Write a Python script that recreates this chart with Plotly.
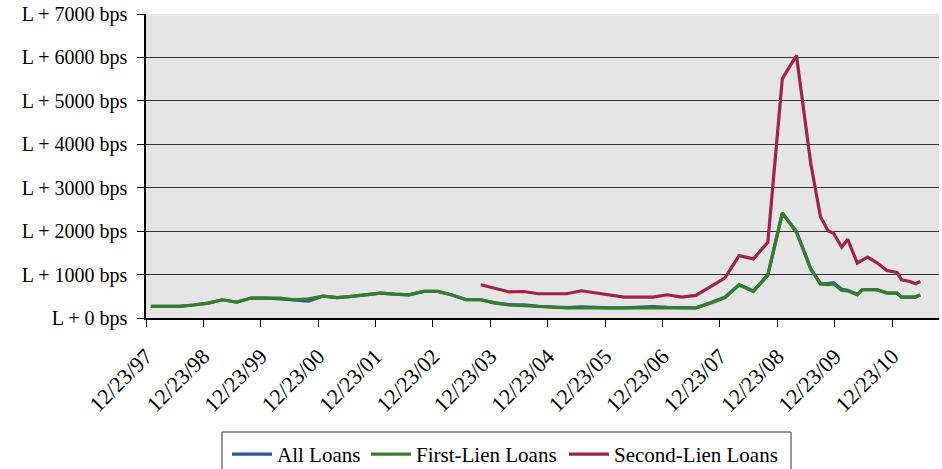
import plotly.graph_objects as go
import pandas as pd

# Shared dates (quarterly to mid-2009, then roughly monthly)
early_dates = list(pd.date_range("1997-12-23", periods=47, freq="3MS") + pd.Timedelta(days=22))
late_dates = pd.to_datetime([
    "2009-09-23", "2009-11-10", "2009-12-15", "2010-02-05", "2010-03-15",
    "2010-05-15", "2010-06-15", "2010-07-20", "2010-09-15", "2010-11-20",
    "2011-01-23", "2011-02-20", "2011-04-15", "2011-05-20", "2011-06-20",
])
dates = [d.strftime("%Y-%m-%d") for d in early_dates] + [d.strftime("%Y-%m-%d") for d in late_dates]

first_lien = [
    266, 266, 266, 300, 344, 420, 367, 459, 459, 459, 420, 440,
    505, 470, 500, 535, 574, 550, 535, 611, 611, 530, 420, 420,
    344, 300, 280, 255, 240, 230, 235, 230, 230, 230, 230, 235,
    230, 230, 230, 340, 465, 760, 611, 985, 2411, 1975, 1120,
    780, 770, 787, 634, 625, 535, 650, 650, 650, 574, 574, 482, 482, 482, 528,
]
all_loans = [
    266, 266, 266, 300, 344, 420, 367, 459, 459, 440, 410, 390,
    505, 470, 500, 535, 574, 550, 535, 611, 611, 530, 420, 420,
    350, 310, 300, 270, 250, 240, 255, 240, 235, 235, 245, 260,
    245, 235, 235, 350, 480, 770, 625, 995, 2420, 1990, 1140,
    790, 790, 815, 660, 640, 545, 650, 650, 655, 580, 574, 482, 482, 482, 528,
]
second_lien = [None] * 23 + [
    765, 680, 600, 610, 558, 558, 558, 627, 580, 535, 482, 482,
    482, 535, 482, 519, 720, 918, 1437, 1361, 1745, 5510, 6046, 3559,
    2330, 2011, 1951, 1630, 1813, 1263, 1330, 1400, 1277, 1093, 1047, 879, 840, 787, 840,
]

series_names = ["All Loans", "First-Lien Loans", "Second-Lien Loans"]
series_colors = ["#2B5797", "#357F2A", "#A3214E"]

y_tick_vals = [0, 1000, 2000, 3000, 4000, 5000, 6000, 7000]
y_tick_text = [f"L + {v} bps" for v in y_tick_vals]
x_tick_vals = [f"{y}-12-23" for y in range(1997, 2011)]
x_tick_text = [f"12/23/{str(y)[2:]}" for y in range(1997, 2011)]

font_family = "Liberation Serif"
W, H = 942, 469
L_M, R_M, T_M, B_M = 146, 3, 14, 151
plot_w = W - L_M - R_M
plot_h = H - T_M - B_M

def px_to_paper_x(px):
    return (px - L_M) / plot_w

def py_to_paper_y(py):
    return (H - B_M - py) / plot_h

legend_ids = ["legend", "legend2", "legend3"]
legend_line_starts = [233, 372, 570]

fig = go.Figure()
for name, vals, col, lid in zip(series_names, [all_loans, first_lien, second_lien],
                                series_colors, legend_ids):
    fig.add_trace(go.Scatter(
        x=dates, y=vals, name=name, mode="lines", legend=lid,
        line=dict(color=col, width=3.2), connectgaps=False,
    ))

legend_common = dict(
    orientation="h", xref="container", yref="container",
    xanchor="left", yanchor="top", bgcolor="rgba(0,0,0,0)", borderwidth=0,
    font=dict(family=font_family, size=21, color="black"),
    itemwidth=40,
)
layout_legends = {}
for lid, ls in zip(legend_ids, legend_line_starts):
    layout_legends[lid] = dict(legend_common, x=(ls - 6) / W, y=1 - 434 / H)

fig.update_layout(
    width=W, height=H,
    margin=dict(l=L_M, r=R_M, t=T_M, b=B_M),
    paper_bgcolor="white",
    plot_bgcolor="#e5e5e5",
    font=dict(family=font_family, size=20, color="black"),
    showlegend=True,
    **layout_legends,
)
fig.add_shape(
    type="rect", xref="paper", yref="paper",
    x0=px_to_paper_x(222), x1=px_to_paper_x(791),
    y0=py_to_paper_y(474), y1=py_to_paper_y(432),
    line=dict(color="#333333", width=1), fillcolor="rgba(0,0,0,0)",
)
fig.update_yaxes(
    range=[0, 7000], tickvals=y_tick_vals, ticktext=y_tick_text,
    showgrid=True, gridcolor="#333333", gridwidth=1,
    showline=True, linecolor="black", linewidth=1.5,
    ticks="outside", ticklen=7, tickcolor="black",
    zeroline=False, ticklabelstandoff=6,
    tickfont=dict(family=font_family, size=20),
)
fig.update_xaxes(
    type="date", range=["1997-12-23", "2011-10-17"],
    tickvals=x_tick_vals, ticktext=x_tick_text, tickangle=-45,
    showgrid=False, showline=True, linecolor="black", linewidth=1.5,
    ticks="outside", ticklen=7, tickcolor="black", ticklabelstandoff=8,
    tickfont=dict(family=font_family, size=22),
)

fig.write_html("out.html")
